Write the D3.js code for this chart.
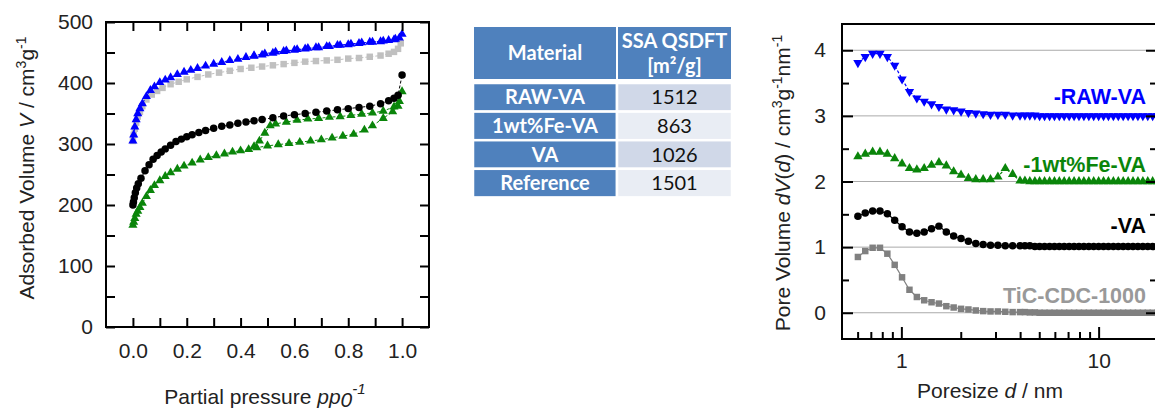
<!DOCTYPE html>
<html><head><meta charset="utf-8">
<script src="https://cdn.jsdelivr.net/npm/d3@7"></script>
<style>
body{margin:0;background:#fff}
svg{display:block;font-family:"Liberation Sans",Arial,sans-serif}
</style></head><body>
<svg id="chart" width="1155" height="412"></svg>
<script>
// ---- isotherms (left panel) ----
const rawVaP = [0.0, 0.003, 0.007, 0.012, 0.018, 0.026, 0.035, 0.05, 0.065, 0.08, 0.1, 0.12, 0.14, 0.165, 0.19, 0.215, 0.24, 0.27, 0.30, 0.33, 0.36, 0.39, 0.42, 0.45, 0.48, 0.52, 0.56, 0.60, 0.64, 0.68, 0.72, 0.76, 0.80, 0.84, 0.88, 0.92, 0.95, 0.975, 0.99, 1.0,
  0.97, 0.93, 0.89, 0.85, 0.81, 0.77, 0.73, 0.69, 0.65, 0.61, 0.57, 0.53, 0.49, 0.45];
const rawVaV = [305, 315, 328, 340, 350, 358, 366, 378, 388, 394, 401, 405, 409, 414, 418, 421, 424, 428, 431, 434, 437, 439, 442, 444, 446, 449, 452, 454, 456, 458, 460, 462, 463, 465, 467, 468, 470, 472, 474, 480,
  471, 469, 467, 466, 464, 462, 460, 458, 457, 455, 453, 451, 448, 445];

const refP = [0.0, 0.003, 0.007, 0.012, 0.018, 0.026, 0.035, 0.05, 0.07, 0.09, 0.11, 0.14, 0.17, 0.2, 0.24, 0.28, 0.32, 0.36, 0.40, 0.44, 0.48, 0.52, 0.56, 0.60, 0.64, 0.68, 0.72, 0.76, 0.80, 0.84, 0.88, 0.92, 0.95, 0.97, 0.985, 0.995];
const refV = [305, 315, 325, 335, 345, 353, 362, 373, 381, 387, 392, 398, 402, 406, 410, 414, 417, 420, 423, 425, 427, 429, 431, 433, 435, 436, 437, 438, 440, 441, 443, 445, 448, 451, 456, 465];

const vaP = [0.0, 0.002, 0.005, 0.009, 0.014, 0.02, 0.03, 0.045, 0.06, 0.075, 0.09, 0.105, 0.12, 0.14, 0.16, 0.18, 0.2, 0.22, 0.245, 0.27, 0.30, 0.33, 0.36, 0.39, 0.42, 0.45, 0.48, 0.52, 0.56, 0.60, 0.64, 0.68, 0.72, 0.76, 0.80, 0.84, 0.88, 0.92, 0.95, 0.97, 0.985, 1.0];
const vaV = [200, 205, 212, 220, 228, 235, 244, 256, 266, 275, 281, 287, 292, 298, 304, 308, 312, 315, 319, 322, 326, 329, 331, 334, 336, 338, 340, 343, 346, 348, 350, 352, 354, 356, 358, 360, 362, 366, 371, 375, 380, 413];

const feP = [0.0, 0.003, 0.007, 0.012, 0.018, 0.026, 0.035, 0.05, 0.065, 0.08, 0.1, 0.12, 0.14, 0.165, 0.19, 0.22, 0.25, 0.28, 0.31, 0.34, 0.37, 0.40, 0.43, 0.46, 0.50, 0.54, 0.58, 0.62, 0.66, 0.70, 0.74, 0.78, 0.82, 0.86, 0.89, 0.93, 0.965, 0.985, 1.0,
  0.99, 0.97, 0.93, 0.89, 0.85, 0.81, 0.77, 0.73, 0.69, 0.65, 0.61, 0.57, 0.53, 0.51, 0.49, 0.47, 0.45];
const feV = [167, 172, 178, 185, 190, 196, 203, 214, 224, 232, 240, 247, 253, 259, 264, 269, 274, 278, 281, 284, 287, 289, 291, 294, 297, 299, 301, 303, 305, 307, 310, 313, 316, 323, 330, 342, 353, 362, 386,
  370, 361, 354, 351, 349, 347, 345, 344, 342, 341, 339, 336, 333, 330, 318, 305, 296];

// ---- table ----
const materials = ["RAW-VA", "1wt%Fe-VA", "VA", "Reference"];
const ssaValues = [1512, 863, 1026, 1501];

// ---- pore size distributions (right panel) ----
const poreD = [0.602, 0.656, 0.715, 0.779, 0.849, 0.925, 1.008, 1.099, 1.198, 1.305, 1.422, 1.55, 1.69, 1.841, 2.007, 2.187, 2.384, 2.598, 2.831, 3.086, 3.363, 3.665,
  3.995, 4.23, 4.48, 4.75, 5.02, 5.32, 5.64, 5.97, 6.32, 6.69, 7.09, 7.51, 7.95, 8.42, 8.92, 9.44, 10.0, 10.59, 11.21, 11.88, 12.58, 13.32, 14.11, 14.94, 15.82, 16.76, 17.75, 18.79, 19.9];
const psdRaw = [3.81, 3.90, 3.95, 3.95, 3.90, 3.77, 3.56, 3.37, 3.27, 3.22, 3.18, 3.14, 3.10, 3.09, 3.07, 3.05, 3.04, 3.03, 3.02, 3.02, 3.02, 3.01,
  3.01, 3.01, 3.01, 3.01, 3.0, 3.0, 3.0, 3.0, 3.0, 3.0, 3.0, 3.0, 3.0, 3.0, 3.0, 3.0, 3.0, 3.0, 3.0, 3.0, 3.0, 3.0, 3.0, 3.0, 3.0, 3.0, 3.0, 3.0, 3.0];
const psdFe = [2.38, 2.42, 2.45, 2.45, 2.42, 2.35, 2.27, 2.20, 2.18, 2.20, 2.25, 2.29, 2.24, 2.15, 2.10, 2.05, 2.03, 2.03, 2.03, 2.07, 2.20, 2.11,
  2.01, 2.01, 2.0, 2.0, 2.0, 2.0, 2.0, 2.0, 2.0, 2.0, 2.0, 2.0, 2.0, 2.0, 2.0, 2.0, 2.0, 2.0, 2.0, 2.0, 2.0, 2.0, 2.0, 2.0, 2.0, 2.0, 2.0, 2.0, 2.0];
const psdVa = [1.47, 1.52, 1.55, 1.55, 1.51, 1.41, 1.31, 1.23, 1.21, 1.23, 1.28, 1.32, 1.23, 1.17, 1.13, 1.09, 1.055, 1.04, 1.03, 1.03, 1.02, 1.02,
  1.02, 1.02, 1.02, 1.01, 1.01, 1.01, 1.01, 1.01, 1.01, 1.01, 1.01, 1.01, 1.01, 1.01, 1.01, 1.01, 1.01, 1.01, 1.01, 1.01, 1.01, 1.01, 1.01, 1.01, 1.01, 1.01, 1.01, 1.01, 1.01];
const psdTic = [0.85, 0.94, 0.99, 0.99, 0.90, 0.73, 0.54, 0.35, 0.24, 0.19, 0.16, 0.14, 0.10, 0.08, 0.06, 0.05, 0.035, 0.025, 0.02, 0.02, 0.015, 0.01,
  0.01, 0.01, 0.005, 0.005, 0, 0, 0, 0, 0, 0, 0, 0, 0, 0, 0, 0, 0, 0, 0, 0, 0, 0, 0, 0, 0, 0, 0, 0, 0];
const psdLabels = ["-RAW-VA", "-1wt%Fe-VA", "-VA", "TiC-CDC-1000"];
const psdLabelY = [3.18, 2.14, 1.22, 0.15];

const svg = d3.select("#chart");
const blue = "#0000ff", green = "#0a850a";

function marks(g, pts, type, size, color, rot) {
  g.selectAll(null).data(pts).enter().append("path")
    .attr("d", d3.symbol().type(type).size(size))
    .attr("transform", d => `translate(${d[0]},${d[1]})` + (rot ? " rotate(180)" : ""))
    .attr("fill", color);
}

// ================= left: isotherms =================
const x1 = d3.scaleLinear().domain([-0.1, 1.1]).range([106, 429]);
const y1 = d3.scaleLinear().domain([0, 500]).range([327, 22]);
const left = svg.append("g");

const isoSeries = [
  {p: refP, v: refV, c: "#c0c0c0", t: d3.symbolSquare, s: 42},
  {p: rawVaP, v: rawVaV, c: blue, t: d3.symbolTriangle, s: 36},
  {p: feP, v: feV, c: green, t: d3.symbolTriangle, s: 36},
  {p: vaP, v: vaV, c: "#000", t: d3.symbolCircle, s: 44}
];
isoSeries.forEach(s => {
  const pts = d3.zip(s.p, s.v).map(d => [x1(d[0]), y1(d[1])]);
  left.append("path").attr("d", d3.line()(pts)).attr("fill", "none")
    .attr("stroke", s.c).attr("stroke-width", 1).attr("stroke-dasharray", "3,2");
  marks(left, pts, s.t, s.s, s.c, false);
});

const tickFont = g => g.selectAll("text").attr("font-size", 21).attr("fill", "#222").attr("font-family", "Liberation Sans, Arial");
left.append("g").attr("transform", "translate(106,0)")
  .call(d3.axisLeft(y1).tickValues(d3.range(0, 501, 50)).tickSize(-9).tickPadding(13)
    .tickFormat(d => d % 100 === 0 ? d : ""))
  .call(tickFont);
left.append("g").attr("transform", "translate(429,0)")
  .call(d3.axisRight(y1).tickValues(d3.range(0, 501, 50)).tickSize(-9).tickFormat(""));
left.append("g").attr("transform", "translate(0,327)")
  .call(d3.axisBottom(x1).tickValues(d3.range(0, 11).map(i => i / 10)).tickSize(-9).tickPadding(16)
    .tickFormat(d => Math.round(d * 10) % 2 === 0 ? d3.format(".1f")(d) : ""))
  .call(tickFont);
left.append("g").attr("transform", "translate(0,22)")
  .call(d3.axisTop(x1).tickValues(d3.range(0, 11).map(i => i / 10)).tickSize(-9).tickFormat(""));
left.selectAll(".domain").remove();
left.selectAll(".tick line").attr("stroke", "#000").attr("stroke-width", 2);
left.append("rect").attr("x", 106).attr("y", 22).attr("width", 323).attr("height", 305)
  .attr("fill", "none").attr("stroke", "#000").attr("stroke-width", 2);

const ly = left.append("text").attr("transform", "translate(34,168) rotate(-90)")
  .attr("text-anchor", "middle").attr("font-size", 21).attr("fill", "#222");
ly.append("tspan").text("Adsorbed Volume ");
ly.append("tspan").attr("font-style", "italic").text("V");
ly.append("tspan").text(" / cm");
ly.append("tspan").attr("font-size", 14).attr("dy", -8).text("3");
ly.append("tspan").attr("dy", 8).text("g");
ly.append("tspan").attr("font-size", 14).attr("dy", -8).text("-1");

const lx = left.append("text").attr("x", 265).attr("y", 404)
  .attr("text-anchor", "middle").attr("font-size", 21).attr("fill", "#222");
lx.append("tspan").text("Partial pressure ");
lx.append("tspan").attr("font-style", "italic").text("pp");
lx.append("tspan").attr("font-style", "italic").attr("dy", 3).text("0");
lx.append("tspan").attr("font-style", "italic").attr("font-size", 15).attr("dy", -13).text("-1");

// ================= middle: table =================
const tb = svg.append("g").attr("font-family", "Lato, 'Open Sans', sans-serif").attr("font-size", 20);
const c0 = 473, c1 = 617, c2 = 732;
tb.append("rect").attr("x", c0).attr("y", 26).attr("width", c1 - c0).attr("height", 54)
  .attr("fill", "#4f81bd").attr("stroke", "#fff").attr("stroke-width", 2);
tb.append("rect").attr("x", c1).attr("y", 26).attr("width", c2 - c1).attr("height", 54)
  .attr("fill", "#4f81bd").attr("stroke", "#fff").attr("stroke-width", 2);
tb.append("text").attr("x", (c0 + c1) / 2).attr("y", 60).attr("text-anchor", "middle")
  .attr("fill", "#fff").attr("font-weight", "bold").text("Material");
tb.append("text").attr("x", (c1 + c2) / 2).attr("y", 48).attr("text-anchor", "middle")
  .attr("fill", "#fff").attr("font-weight", "bold").text("SSA QSDFT");
tb.append("text").attr("x", (c1 + c2) / 2).attr("y", 73).attr("text-anchor", "middle")
  .attr("fill", "#fff").attr("font-weight", "bold").text("[m²/g]");
const rowH = 28.6, row0 = 83;
materials.forEach((m, i) => {
  const ry = row0 + i * rowH;
  tb.append("rect").attr("x", c0).attr("y", ry).attr("width", c1 - c0).attr("height", rowH)
    .attr("fill", "#4f81bd").attr("stroke", "#fff").attr("stroke-width", 2.5);
  tb.append("rect").attr("x", c1).attr("y", ry).attr("width", c2 - c1).attr("height", rowH)
    .attr("fill", i % 2 === 0 ? "#d0d8e8" : "#e9edf4").attr("stroke", "#fff").attr("stroke-width", 2.5);
  tb.append("text").attr("x", (c0 + c1) / 2).attr("y", ry + rowH / 2 + 7).attr("text-anchor", "middle")
    .attr("fill", "#fff").attr("font-weight", "bold").text(m);
  tb.append("text").attr("x", (c1 + c2) / 2).attr("y", ry + rowH / 2 + 7).attr("text-anchor", "middle")
    .attr("fill", "#111").text(ssaValues[i]);
});

// ================= right: pore size distribution =================
const x2 = d3.scaleLog().domain([0.5, 20]).range([842, 1158]);
const y2 = d3.scaleLinear().domain([-0.4, 4.4]).range([339, 24]);
const right = svg.append("g");

right.selectAll(".grid").data([0, 1, 2, 3, 4]).enter().append("line")
  .attr("x1", 842).attr("x2", 1158).attr("y1", d => y2(d)).attr("y2", d => y2(d))
  .attr("stroke", "#aaa").attr("stroke-width", 1);

const psdSeries = [
  {v: psdTic, c: "#808080", t: d3.symbolSquare, s: 42, rot: false, dash: null},
  {v: psdVa, c: "#000", t: d3.symbolCircle, s: 44, rot: false, dash: null},
  {v: psdFe, c: green, t: d3.symbolTriangle, s: 38, rot: false, dash: "3,2"},
  {v: psdRaw, c: blue, t: d3.symbolTriangle, s: 38, rot: true, dash: "3,2"}
];
psdSeries.forEach(s => {
  const pts = d3.zip(poreD, s.v).map(d => [x2(d[0]), y2(d[1])]);
  right.append("path").attr("d", d3.line()(pts)).attr("fill", "none")
    .attr("stroke", s.c).attr("stroke-width", 1.2).attr("stroke-dasharray", s.dash);
  marks(right, pts, s.t, s.s, s.c, s.rot);
});

const labelColors = [blue, green, "#000", "#999"];
psdLabels.forEach((t, i) => {
  right.append("text").attr("x", 1146).attr("y", y2(psdLabelY[i])).attr("text-anchor", "end")
    .attr("font-size", 21.5).attr("font-weight", "bold").attr("fill", labelColors[i]).text(t);
});

const yMajor = [0, 1, 2, 3, 4], yMinor = [0.5, 1.5, 2.5, 3.5];
right.append("g").attr("transform", "translate(842,0)")
  .call(d3.axisLeft(y2).tickValues(yMajor).tickSize(-11).tickPadding(16).tickFormat(d3.format("d")))
  .call(tickFont);
right.append("g").attr("transform", "translate(842,0)")
  .call(d3.axisLeft(y2).tickValues(yMinor).tickSize(-7).tickFormat(""));
right.append("g").attr("transform", "translate(1157,0)")
  .call(d3.axisRight(y2).tickValues(yMajor).tickSize(-11).tickFormat(""));
right.append("g").attr("transform", "translate(1157,0)")
  .call(d3.axisRight(y2).tickValues(yMinor).tickSize(-7).tickFormat(""));
const xMinor = [0.6, 0.7, 0.8, 0.9, 2, 3, 4, 5, 6, 7, 8, 9];
right.append("g").attr("transform", "translate(0,339)")
  .call(d3.axisBottom(x2).tickValues([1, 10]).tickSize(-12).tickPadding(14).tickFormat(d3.format("d")))
  .call(tickFont);
right.append("g").attr("transform", "translate(0,339)")
  .call(d3.axisBottom(x2).tickValues(xMinor).tickSize(-7).tickFormat(""));
right.selectAll(".domain").remove();
right.selectAll(".tick line").attr("stroke", "#000").attr("stroke-width", 2);
right.append("path").attr("d", "M1160,24H842V339H1160").attr("fill", "none")
  .attr("stroke", "#000").attr("stroke-width", 2);

const ry2 = right.append("text").attr("transform", "translate(790,183) rotate(-90)")
  .attr("text-anchor", "middle").attr("font-size", 21).attr("fill", "#222");
ry2.append("tspan").text("Pore Volume ");
ry2.append("tspan").attr("font-style", "italic").text("dV");
ry2.append("tspan").text("(");
ry2.append("tspan").attr("font-style", "italic").text("d");
ry2.append("tspan").text(") / cm");
ry2.append("tspan").attr("font-size", 14).attr("dy", -8).text("3");
ry2.append("tspan").attr("dy", 8).text("g");
ry2.append("tspan").attr("font-size", 14).attr("dy", -8).text("-1");
ry2.append("tspan").attr("dy", 8).text("nm");
ry2.append("tspan").attr("font-size", 14).attr("dy", -8).text("-1");

const rx2 = right.append("text").attr("x", 990).attr("y", 398)
  .attr("text-anchor", "middle").attr("font-size", 21).attr("fill", "#222");
rx2.append("tspan").text("Poresize ");
rx2.append("tspan").attr("font-style", "italic").text("d");
rx2.append("tspan").text(" / nm");
</script>
</body></html>
